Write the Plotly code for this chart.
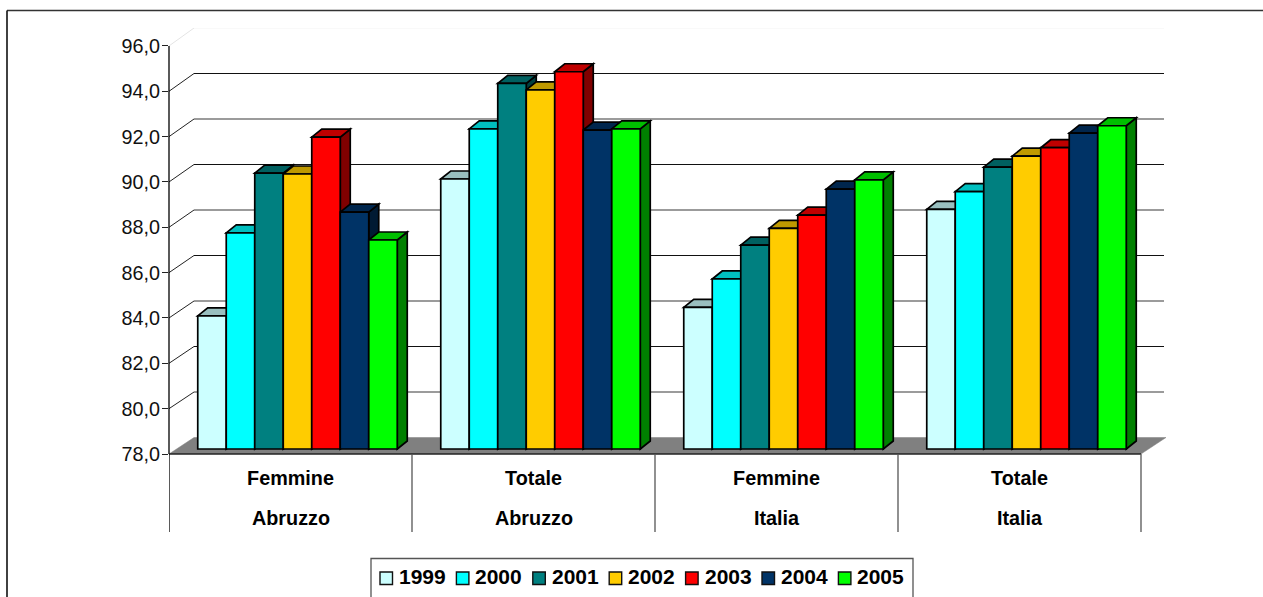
import plotly.graph_objects as go

years = ["1999", "2000", "2001", "2002", "2003", "2004", "2005"]
sub_labels = ["Femmine", "Totale", "Femmine", "Totale"]
region_labels = ["Abruzzo", "Abruzzo", "Italia", "Italia"]
y_ticks = [78, 80, 82, 84, 86, 88, 90, 92, 94, 96]

v1999 = [83.87, 89.91, 84.25, 88.57]
v2000 = [87.53, 92.12, 85.50, 89.35]
v2001 = [90.17, 94.13, 86.99, 90.43]
v2002 = [90.13, 93.84, 87.73, 90.92]
v2003 = [91.76, 94.64, 88.32, 91.29]
v2004 = [88.45, 92.07, 89.46, 91.93]
v2005 = [87.22, 92.12, 89.87, 92.26]
series = [v1999, v2000, v2001, v2002, v2003, v2004, v2005]

front = ["#CCFFFF", "#00FFFF", "#008080", "#FFCC00", "#FF0000", "#003366", "#00FF00"]
top = ["#99BFBF", "#00BFBF", "#006060", "#BF9900", "#BF0000", "#00264D", "#00BF00"]
side = ["#668080", "#008080", "#004040", "#806600", "#800000", "#001A33", "#008000"]

FONT = "Liberation Sans"
# pixel frame of the plot area
L, R, T, B = 169, 1166, 28, 454
W, H = 1263, 597
PX = 243.0          # px per category
PY = 22.67          # px per value unit
y0 = 78
X_MAX = (R - L) / PX
Y_MAX = y0 + (B - T) / PY
GROUP_SHIFT = 7 / PX      # bars sit right of the category centre
GROUP_W = 199.5 / PX
BAR_W = GROUP_W / 7
BASE = y0 + 5 / PY        # bars stand on the floor, a little behind the front edge
DX, DY = 10 / PX, 8 / PY
WALL_X = 25 / PX
EDGE = 1.7


def wall_y(v):
    return y0 + 16.5 / PY + (v - y0) * 1.0035


def px(x):
    return (x - L) / (R - L)


def py(y):
    return (B - y) / (B - T)


def poly(pts):
    return "M " + " L ".join(f"{a:.5f},{b:.5f}" for a, b in pts) + " Z"


shapes = []
# floor
shapes.append(dict(type="path", layer="below", xref="x", yref="y",
                   path=poly([(0, y0), (4, y0), (4 + WALL_X, wall_y(y0)), (WALL_X, wall_y(y0))]),
                   fillcolor="#808080", line=dict(color="#808080", width=0.5)))
# grid lines on the back wall with their diagonal run to the axis
for v in y_ticks[1:]:
    if v == 96:
        diag, wall, wide = "#E4E4E4", "#F4F4F4", 1.0
    elif v % 4 == 0:
        diag, wall, wide = "#222222", "#7A7A7A", 1.7
    else:
        diag, wall, wide = "#222222", "#111111", 1.1
    shapes.append(dict(type="line", layer="below", xref="x", yref="y",
                       x0=0, y0=v, x1=WALL_X, y1=wall_y(v), line=dict(color=diag, width=1.0)))
    shapes.append(dict(type="line", layer="below", xref="x", yref="y",
                       x0=WALL_X, y0=wall_y(v), x1=4 + 23 / PX, y1=wall_y(v),
                       line=dict(color=wall, width=wide)))
# depth faces of the bars, left to right
n_groups = len(sub_labels)
for g in range(n_groups):
    centre = g + 0.5 + GROUP_SHIFT
    for s, vals in enumerate(series):
        x0 = centre + (s - 3.5) * BAR_W
        x1 = x0 + BAR_W
        t = vals[g] + (BASE - y0)
        shapes.append(dict(type="path", layer="below", xref="x", yref="y",
                           path=poly([(x1, BASE), (x1 + DX, BASE + DY), (x1 + DX, t + DY), (x1, t)]),
                           fillcolor=side[s], line=dict(color="black", width=EDGE)))
        shapes.append(dict(type="path", layer="below", xref="x", yref="y",
                           path=poly([(x0, t), (x0 + DX, t + DY), (x1 + DX, t + DY), (x1, t)]),
                           fillcolor=top[s], line=dict(color="black", width=EDGE)))
# value axis line
shapes.append(dict(type="line", xref="paper", yref="y", x0=0, x1=0, y0=y0, y1=96,
                   line=dict(color="black", width=1.3)))
# category axis line and separators
shapes.append(dict(type="line", xref="x", yref="paper", x0=0, x1=4, y0=0, y1=0,
                   line=dict(color="#222222", width=1.3)))
for i in range(n_groups + 1):
    shapes.append(dict(type="line", xref="x", yref="paper", x0=i, x1=i,
                       y0=py(532), y1=0,
                       line=dict(color="black" if i == 0 else "#555555", width=1.3)))
# page frame
shapes.append(dict(type="line", xref="paper", yref="paper", x0=px(7), x1=px(W + 5), y0=py(10.5), y1=py(10.5),
                   line=dict(color="#333333", width=1.6)))
shapes.append(dict(type="line", xref="paper", yref="paper", x0=px(7), x1=px(7), y0=py(10.5), y1=py(H + 40),
                   line=dict(color="#111111", width=1.6)))
# legend box
shapes.append(dict(type="rect", xref="paper", yref="paper", x0=px(371), x1=px(913), y0=py(558.5), y1=py(640),
                   line=dict(color="#555555", width=1.3), fillcolor="rgba(0,0,0,0)"))

fig = go.Figure()
xs = [g + 0.5 + GROUP_SHIFT for g in range(n_groups)]
for s, vals in enumerate(series):
    fig.add_trace(go.Bar(
        x=xs, y=[v - y0 for v in vals], base=BASE, name=years[s],
        marker=dict(color=front[s], line=dict(color="black", width=EDGE)),
    ))

annotations = [dict(x=g + 0.5, y=py(518), xref="x", yref="paper", text=f"<b>{region_labels[g]}</b>",
                    showarrow=False, xanchor="center", yanchor="middle",
                    font=dict(family=FONT, size=19.8, color="black"))
               for g in range(n_groups)]

# legend row inside its box
for s, yr in enumerate(years):
    sx = 380 + s * 76.4
    shapes.append(dict(type="rect", xref="paper", yref="paper",
                       x0=px(sx), x1=px(sx + 12.5), y0=py(572), y1=py(584.5),
                       fillcolor=front[s], line=dict(color="#111111", width=1.4)))
    annotations.append(dict(x=px(sx + 19), y=py(576), xref="paper", yref="paper", text=f"<b>{yr}</b>",
                            showarrow=False, xanchor="left", yanchor="middle",
                            borderpad=0, borderwidth=0,
                            font=dict(family=FONT, size=21, color="black")))

fig.update_layout(
    width=W, height=H, autosize=False,
    margin=dict(l=L, r=W - R, t=T, b=H - B, pad=0, autoexpand=False),
    paper_bgcolor="white", plot_bgcolor="rgba(0,0,0,0)",
    barmode="group", bargap=1 - GROUP_W, bargroupgap=0,
    separators=",.",
    shapes=shapes, annotations=annotations,
    xaxis=dict(range=[0, X_MAX], tickmode="array", tickvals=[g + 0.5 for g in range(n_groups)],
               ticktext=[f"<b>{t}</b>" for t in sub_labels], ticks="", showgrid=False, zeroline=False,
               showline=False, ticklabelstandoff=10,
               tickfont=dict(family=FONT, size=19.8, color="black")),
    yaxis=dict(range=[y0, Y_MAX], tickmode="array", tickvals=y_ticks, tickformat=".1f",
               ticks="outside", ticklen=6, tickcolor="#222222", tickwidth=1.3,
               showgrid=False, zeroline=False, showline=False, ticklabelstandoff=-2,
               tickfont=dict(family=FONT, size=19.8, color="#111111")),
    showlegend=False,
)

fig.write_html("out.html", config={"displayModeBar": False},
               post_script="document.body.style.margin='0';document.body.style.overflow='hidden';")
